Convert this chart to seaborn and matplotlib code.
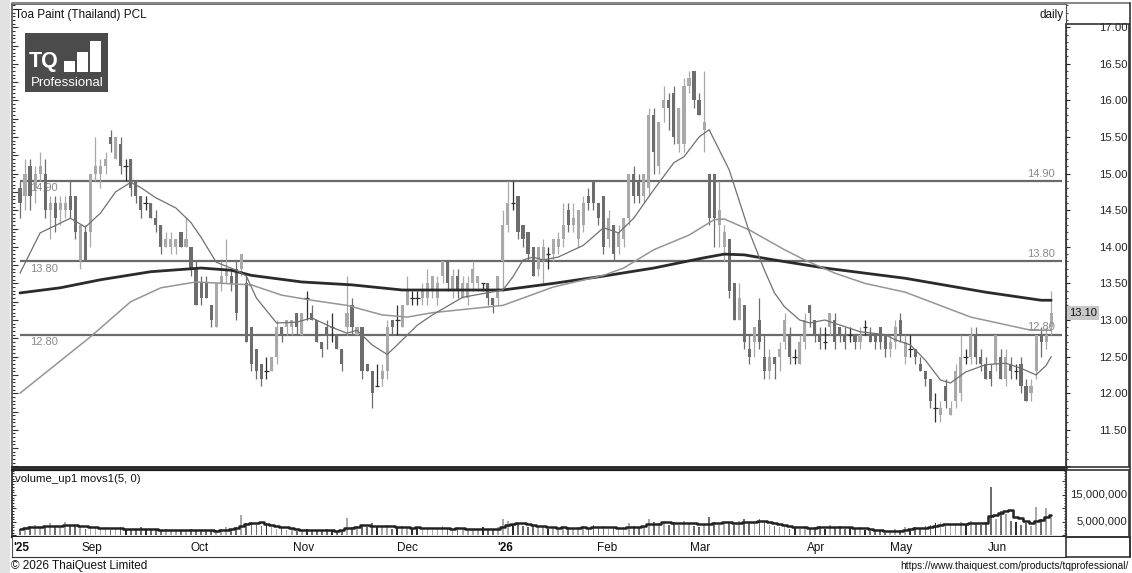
import matplotlib
matplotlib.use("Agg")
import matplotlib.pyplot as plt
import numpy as np
import pandas as pd
import seaborn as sns
from matplotlib.patches import Rectangle
from matplotlib.ticker import MultipleLocator, FuncFormatter
from matplotlib.transforms import blended_transform_factory

# ---- data (daily OHLC, Aug 2025 - Jun 2026) ----
opens = [14.8, 14.7, 15.1, 14.8, 15.0, 15.0, 14.5, 14.6, 14.5, 14.5,
         14.7, 14.7, 13.8, 14.2, 14.2, 15.0, 15.0, 15.1, 15.5, 15.2,
         15.4, 15.1, 15.2, 14.9, 14.7, 14.6, 14.6, 14.4, 14.3, 14.0,
         14.0, 14.0, 14.2, 14.0, 14.0, 13.7, 13.5, 13.5, 13.2, 12.9,
         13.5, 13.6, 13.6, 13.7, 13.7, 13.5, 12.9, 12.6, 12.4, 12.3,
         12.3, 12.5, 12.9, 12.9, 12.9, 13.1, 12.8, 13.3, 13.1, 13.0,
         12.7, 12.9, 12.9, 12.8, 12.6, 12.9, 13.2, 12.8, 12.9, 12.4,
         12.3, 12.1, 12.2, 12.3, 13.0, 13.0, 12.9, 13.2, 13.3, 13.3,
         13.3, 13.3, 13.4, 13.3, 13.6, 13.8, 13.4, 13.6, 13.3, 13.3,
         13.5, 13.5, 13.5, 13.5, 13.3, 13.3, 13.8, 14.3, 14.6, 14.7,
         14.3, 14.2, 14.0, 13.7, 13.8, 13.9, 13.9, 14.0, 14.1, 14.5,
         14.3, 14.1, 14.3, 14.7, 14.9, 14.6, 14.7, 14.1, 14.3, 14.0,
         14.1, 14.4, 15.0, 14.9, 14.7, 14.8, 15.8, 15.1, 15.9, 16.0,
         16.1, 15.4, 15.4, 16.2, 16.4, 16.0, 15.6, 15.0, 15.0, 14.3,
         14.0, 14.1, 13.5, 13.0, 13.2, 12.6, 12.7, 13.0, 12.5, 12.3,
         12.5, 12.5, 12.7, 12.8, 12.5, 12.4, 12.7, 13.2, 13.0, 12.8,
         12.7, 12.9, 13.0, 12.9, 12.8, 12.8, 12.8, 12.7, 12.9, 12.8,
         12.8, 12.9, 12.8, 12.6, 12.7, 13.0, 12.5, 12.6, 12.6, 12.4,
         12.3, 12.2, 11.8, 11.7, 12.1, 11.7, 11.9, 12.0, 12.5, 12.5,
         12.8, 12.5, 12.4, 12.3, 12.4, 12.5, 12.2, 12.4, 12.3, 12.4,
         12.1, 12.0, 12.3, 12.8, 12.7, 12.9]
highs = [14.9, 15.2, 15.2, 15.1, 15.3, 15.2, 14.7, 14.7, 14.7, 14.7,
         14.9, 14.7, 14.3, 14.3, 15.0, 15.5, 15.2, 15.3, 15.6, 15.5,
         15.5, 15.2, 15.2, 14.9, 14.7, 14.7, 14.6, 14.5, 14.3, 14.2,
         14.2, 14.1, 14.2, 14.4, 14.0, 13.8, 13.6, 13.6, 13.2, 13.5,
         13.8, 14.1, 13.7, 13.8, 13.9, 13.6, 12.9, 12.6, 12.4, 12.5,
         12.5, 13.0, 12.9, 13.0, 13.0, 13.1, 13.1, 13.4, 13.2, 13.0,
         12.7, 13.0, 13.1, 12.8, 12.6, 13.6, 13.3, 12.9, 12.9, 12.4,
         12.3, 12.4, 12.4, 13.0, 13.0, 13.2, 13.2, 13.6, 13.4, 13.4,
         13.5, 13.7, 13.6, 13.6, 13.8, 13.8, 13.7, 13.7, 13.6, 13.6,
         13.8, 13.6, 13.5, 13.5, 13.3, 13.6, 14.5, 14.9, 14.9, 14.7,
         14.3, 14.2, 14.0, 14.0, 14.1, 14.0, 14.1, 14.2, 14.6, 14.6,
         14.6, 14.5, 14.7, 14.8, 14.9, 14.6, 14.7, 14.5, 14.3, 14.3,
         14.4, 15.0, 15.1, 15.0, 15.0, 15.9, 15.9, 15.7, 16.2, 16.1,
         16.2, 15.9, 16.3, 16.4, 16.4, 16.1, 16.4, 15.0, 15.0, 14.9,
         14.3, 14.1, 13.5, 13.5, 13.2, 12.8, 12.9, 13.3, 12.8, 12.6,
         12.5, 12.7, 13.1, 12.9, 12.6, 12.8, 13.1, 13.2, 13.0, 12.9,
         12.9, 13.1, 13.1, 12.9, 12.9, 12.9, 12.8, 12.9, 13.0, 12.9,
         12.8, 12.9, 12.8, 12.8, 13.0, 13.1, 12.8, 12.8, 12.6, 12.5,
         12.3, 12.2, 12.0, 11.9, 12.2, 11.9, 12.4, 12.8, 12.6, 12.9,
         12.9, 12.6, 12.5, 12.4, 12.8, 12.6, 12.6, 12.5, 12.4, 12.5,
         12.2, 12.2, 12.8, 12.9, 12.9, 13.4]
lows = [14.4, 14.5, 14.5, 14.6, 14.9, 14.4, 14.1, 14.2, 14.3, 14.4,
        14.4, 14.1, 13.7, 13.8, 14.0, 14.9, 14.8, 15.0, 15.3, 15.2,
        15.0, 14.9, 14.7, 14.6, 14.4, 14.5, 14.4, 14.2, 13.9, 14.0,
        13.9, 13.9, 14.0, 14.0, 13.6, 13.2, 13.2, 13.3, 12.9, 12.9,
        13.4, 13.5, 13.4, 13.0, 13.6, 12.7, 12.3, 12.2, 12.1, 12.2,
        12.3, 12.4, 12.7, 12.8, 12.8, 12.8, 12.8, 13.0, 13.0, 12.7,
        12.5, 12.6, 12.7, 12.6, 12.3, 12.8, 12.8, 12.8, 12.2, 12.3,
        11.8, 12.1, 12.1, 12.2, 12.8, 12.8, 12.9, 13.2, 13.2, 13.2,
        13.2, 13.2, 13.3, 13.2, 13.5, 13.4, 13.3, 13.3, 13.3, 13.2,
        13.4, 13.4, 13.4, 13.2, 13.1, 13.2, 13.4, 14.2, 14.5, 14.1,
        14.0, 13.8, 13.6, 13.6, 13.5, 13.7, 13.8, 13.9, 14.0, 14.2,
        14.2, 14.0, 14.2, 14.5, 14.5, 14.3, 13.9, 14.0, 13.8, 13.9,
        14.0, 14.3, 14.6, 14.6, 14.6, 14.7, 15.0, 15.0, 15.7, 15.6,
        15.4, 15.3, 15.3, 16.1, 15.9, 15.8, 15.3, 14.3, 14.0, 14.0,
        13.8, 13.3, 13.0, 13.0, 12.6, 12.4, 12.5, 12.6, 12.2, 12.2,
        12.2, 12.3, 12.6, 12.4, 12.4, 12.4, 12.6, 12.9, 12.7, 12.6,
        12.6, 12.8, 12.6, 12.7, 12.6, 12.7, 12.6, 12.6, 12.8, 12.7,
        12.6, 12.6, 12.5, 12.5, 12.6, 12.7, 12.4, 12.5, 12.4, 12.3,
        12.1, 11.8, 11.6, 11.6, 11.8, 11.7, 11.8, 11.9, 12.4, 12.4,
        12.4, 12.3, 12.2, 12.1, 12.3, 12.2, 12.1, 12.2, 12.2, 12.0,
        11.9, 11.9, 12.2, 12.5, 12.6, 12.8]
closes = [14.6, 15.0, 14.7, 15.0, 15.1, 14.5, 14.6, 14.4, 14.6, 14.6,
          14.5, 14.2, 14.3, 13.8, 15.0, 15.1, 15.1, 15.2, 15.4, 15.5,
          15.1, 15.1, 14.8, 14.7, 14.5, 14.6, 14.4, 14.3, 14.0, 14.1,
          14.1, 14.1, 14.0, 14.1, 13.7, 13.2, 13.3, 13.3, 13.0, 13.5,
          13.6, 13.7, 13.5, 13.1, 13.9, 12.7, 12.4, 12.3, 12.2, 12.3,
          12.5, 12.9, 12.8, 13.0, 13.0, 12.9, 13.1, 13.3, 13.0, 12.7,
          12.6, 12.8, 12.9, 12.6, 12.4, 13.1, 12.9, 12.9, 12.3, 12.3,
          12.0, 12.1, 12.3, 12.9, 12.9, 13.0, 13.2, 13.4, 13.3, 13.3,
          13.4, 13.5, 13.6, 13.5, 13.8, 13.5, 13.6, 13.4, 13.5, 13.5,
          13.7, 13.6, 13.5, 13.3, 13.2, 13.6, 14.3, 14.6, 14.6, 14.2,
          14.1, 13.9, 13.6, 14.0, 14.0, 13.9, 14.1, 14.1, 14.3, 14.3,
          14.4, 14.5, 14.6, 14.6, 14.6, 14.4, 14.0, 14.4, 13.9, 14.2,
          14.4, 15.0, 14.7, 14.7, 15.0, 15.8, 15.3, 15.7, 16.0, 15.9,
          15.5, 15.9, 16.2, 16.3, 16.0, 15.8, 15.7, 14.4, 14.4, 14.5,
          14.2, 13.4, 13.0, 13.3, 12.7, 12.5, 12.9, 12.7, 12.3, 12.5,
          12.4, 12.6, 13.0, 12.5, 12.5, 12.7, 13.0, 13.1, 12.8, 12.7,
          12.7, 13.1, 12.7, 12.8, 12.7, 12.8, 12.7, 12.8, 12.9, 12.7,
          12.7, 12.7, 12.6, 12.7, 12.9, 12.8, 12.7, 12.6, 12.5, 12.3,
          12.2, 11.9, 11.8, 11.8, 11.9, 11.8, 12.3, 12.5, 12.5, 12.8,
          12.5, 12.4, 12.2, 12.2, 12.8, 12.2, 12.5, 12.3, 12.3, 12.1,
          11.9, 12.1, 12.8, 12.7, 12.8, 13.1]
# volume in millions of shares
volume_m = [2.5, 3.0, 3.5, 4.0, 3.5, 3.0, 4.5, 3.5, 3.0, 5.0,
            3.5, 4.0, 3.0, 2.5, 3.5, 3.0, 2.5, 3.0, 2.0, 2.5,
            3.0, 2.0, 2.5, 2.0, 3.0, 2.0, 2.5, 2.0, 1.5, 2.5,
            2.0, 2.0, 1.5, 2.0, 2.5, 1.5, 2.0, 2.0, 1.5, 2.0,
            2.5, 3.0, 2.5, 3.0, 7.5, 4.5, 5.0, 4.0, 3.5, 4.5,
            3.0, 2.5, 3.0, 2.0, 2.5, 1.5, 2.0, 2.5, 2.0, 1.5,
            2.0, 2.5, 1.5, 1.5, 2.0, 6.5, 3.0, 3.5, 4.0, 3.0,
            4.5, 3.5, 3.0, 4.0, 2.5, 3.0, 3.5, 3.0, 2.5, 3.0,
            2.5, 3.0, 2.0, 2.5, 3.5, 2.5, 2.0, 3.0, 2.5, 2.0,
            2.5, 2.0, 3.0, 2.5, 2.0, 3.0, 6.0, 5.5, 4.0, 4.5,
            3.5, 3.0, 4.0, 3.0, 3.5, 2.5, 3.0, 2.5, 3.5, 3.0,
            2.5, 3.0, 3.5, 2.5, 4.0, 3.0, 3.5, 2.5, 3.0, 2.5,
            3.0, 4.5, 3.5, 3.0, 3.5, 6.0, 5.0, 4.5, 5.5, 4.0,
            5.0, 4.0, 5.5, 4.5, 3.5, 3.0, 4.0, 7.0, 5.0, 4.0,
            4.5, 5.0, 4.0, 5.5, 6.0, 5.0, 4.5, 6.0, 5.5, 4.0,
            3.5, 3.0, 4.0, 2.5, 3.0, 2.5, 3.5, 2.5, 3.0, 3.5,
            2.5, 4.0, 3.0, 3.5, 2.5, 3.0, 2.5, 3.0, 2.0, 1.5,
            1.5, 2.0, 1.0, 1.5, 2.5, 2.0, 3.0, 2.5, 3.0, 2.5,
            3.5, 4.0, 4.5, 5.0, 3.5, 4.0, 4.5, 5.0, 4.0, 5.5,
            4.5, 4.0, 5.0, 18.0, 6.0, 9.0, 8.0, 5.5, 5.0, 4.0,
            4.5, 3.5, 10.5, 6.0, 10.0, 7.5]

# moving averages as drawn on the reference (bar index, price)
fast_idx = [0, 4, 10, 13, 16, 19, 22, 24, 27, 31, 34, 36, 39, 43, 45, 47, 51, 55,
            58, 62, 65, 67, 70, 73, 75, 79, 82, 88, 92, 96, 98, 100, 102, 104, 107,
            112, 116, 119, 122, 126, 130, 132, 135, 137, 141, 145, 148, 150, 152,
            155, 157, 160, 167, 172, 174, 177, 180, 183, 185, 188, 192, 196, 199,
            202, 204, 205]
fast_val = [13.64, 14.19, 14.39, 14.27, 14.46, 14.75, 14.88, 14.81, 14.67, 14.53,
            14.33, 14.13, 13.79, 13.68, 13.60, 13.30, 12.96, 12.97, 13.03, 12.90,
            12.82, 12.86, 12.66, 12.53, 12.66, 12.93, 13.07, 13.31, 13.36, 13.41,
            13.59, 13.82, 13.86, 13.82, 13.86, 14.02, 14.26, 14.19, 14.39, 14.78,
            15.15, 15.23, 15.50, 15.60, 15.05, 14.20, 13.68, 13.37, 13.18, 13.00,
            12.96, 13.00, 12.84, 12.80, 12.73, 12.66, 12.45, 12.18, 12.14, 12.29,
            12.39, 12.41, 12.34, 12.25, 12.38, 12.50]
mid_idx = [0, 14, 22, 28, 35, 46, 52, 58, 65, 72, 77, 82, 96, 106, 116, 120, 126,
           133, 138, 140, 145, 152, 156, 162, 168, 176, 189, 201, 205]
mid_val = [12.00, 12.77, 13.25, 13.44, 13.52, 13.48, 13.34, 13.27, 13.20, 13.07,
           13.04, 13.10, 13.20, 13.45, 13.61, 13.71, 13.96, 14.16, 14.37, 14.38,
           14.23, 13.96, 13.82, 13.64, 13.50, 13.38, 13.04, 12.86, 12.86]
slow_idx = [0, 8, 16, 26, 36, 42, 46, 56, 66, 76, 86, 96, 106, 116, 126, 136, 140,
            144, 150, 160, 176, 192, 203, 205]
slow_val = [13.37, 13.44, 13.55, 13.66, 13.71, 13.68, 13.61, 13.52, 13.48, 13.41,
            13.41, 13.41, 13.50, 13.60, 13.71, 13.85, 13.90, 13.89, 13.82, 13.71,
            13.57, 13.38, 13.27, 13.27]

level_prices = [14.90, 13.80, 12.80]
last_price = 13.10
vol_ticks = [5, 15]  # millions
month_labels = ["'25", "Sep", "Oct", "Nov", "Dec", "'26", "Feb", "Mar", "Apr", "May", "Jun"]
month_pos = [-1.4, 12.3, 33.8, 54.3, 75.0, 94.8, 114.7, 133.2, 156.5, 173.0, 192.4]

W, H = 1132, 573


def box(x0, y0, x1, y1):
    '''pixel box -> figure fraction rect'''
    return [x0 / W, 1 - y1 / H, (x1 - x0) / W, (y1 - y0) / H]


sns.set_style("white")
plt.rcParams['font.family'] = ['Liberation Sans', 'DejaVu Sans']

fig = plt.figure(figsize=(W / 100, H / 100), dpi=100)
fig.patch.set_facecolor('white')

# light strip on the far left
fig.patches.append(Rectangle((0, 0), 10 / W, 1, transform=fig.transFigure,
                             facecolor='#e2e2e2', edgecolor='none', zorder=0))

ax = fig.add_axes(box(12, 4, 1066, 467))
axv = fig.add_axes(box(12, 470, 1066, 537), sharex=ax)
axd = fig.add_axes(box(12, 537, 1066, 557), sharex=ax)

df = pd.DataFrame({'o': opens, 'h': highs, 'l': lows, 'c': closes, 'v': volume_m})
df['i'] = np.arange(len(df))
up_c, dn_c, dj_c = '#a9a9a9', '#6d6d6d', '#2e2e2e'
colors = np.where(df.c > df.o, up_c, np.where(df.c < df.o, dn_c, dj_c))

# candles
ax.vlines(df.i, df.l, df.h, colors=colors, lw=0.9, zorder=3)
body = (df.c - df.o).abs()
ax.bar(df.i, body.where(body > 0, 0), bottom=df[['o', 'c']].min(axis=1),
       width=0.62, color=colors, zorder=4, linewidth=0)
doji = df[body == 0]
ax.hlines(doji.c, doji.i - 0.45, doji.i + 0.45, colors=dj_c, lw=0.9, zorder=4)

# moving averages
sns.lineplot(x=slow_idx, y=slow_val, ax=ax, color='#2b2b2b', lw=2.0, zorder=5)
sns.lineplot(x=mid_idx, y=mid_val, ax=ax, color='#959595', lw=1.1, zorder=5)
sns.lineplot(x=fast_idx, y=fast_val, ax=ax, color='#707070', lw=0.9, zorder=5)

# horizontal levels
for lv in level_prices:
    ax.hlines(lv, 0, 207.2, colors='#6a6a6a', lw=1.6, zorder=2)
    ax.text(2.0, lv - 0.03, f"{lv:.2f}", color='#8a8a8a', fontsize=8, va='top', ha='left', zorder=6)
    ax.text(205.8, lv + 0.03, f"{lv:.2f}", color='#8a8a8a', fontsize=8, va='bottom', ha='right', zorder=6)

ax.set_xlim(-1.59, 207.95)
ax.set_ylim(10.992, 17.317)
ax.yaxis.set_major_locator(MultipleLocator(0.25))
ax.yaxis.set_minor_locator(MultipleLocator(0.05))
ax.tick_params(axis='y', which='both', direction='in', left=True, right=False,
               labelleft=False, color='#333333', width=0.8)
ax.tick_params(axis='y', which='major', length=4)
ax.tick_params(axis='y', which='minor', length=2)
ax.tick_params(axis='x', bottom=False, labelbottom=False)
for s in ['left', 'top']:
    ax.spines[s].set_color('#555555')
    ax.spines[s].set_linewidth(1.2)
ax.spines['bottom'].set_color('#222222')
ax.spines['bottom'].set_linewidth(2.0)
ax.spines['right'].set_linestyle(':')
ax.spines['right'].set_color('#444444')
ax.set_xlabel('')
ax.set_ylabel('')

# right price scale
sec = ax.secondary_yaxis('right')
sec.yaxis.set_major_locator(MultipleLocator(0.5))
sec.yaxis.set_minor_locator(MultipleLocator(0.1))
sec.yaxis.set_major_formatter(FuncFormatter(lambda v, p: f"{v:.2f}" if 11.4 < v < 17.1 else ""))
sec.tick_params(which='major', length=3, pad=21, labelsize=8.2, colors='#222222')
sec.tick_params(which='minor', length=1.5)
sec.spines['right'].set_linestyle(':')
sec.spines['right'].set_color('#444444')

ax.text(1069 / W, 1 - 313 / H, f"{last_price:.2f}", transform=fig.transFigure, fontsize=8,
        va='center', ha='left', color='#111111',
        bbox=dict(boxstyle='square,pad=0.15', fc='#c8c8c8', ec='none'))

# volume panel
axv.bar(df.i, df.v, width=0.35, color=colors, linewidth=0, zorder=3)
vol_ma = df.v.rolling(5, min_periods=1).mean()
sns.lineplot(x=df.i, y=vol_ma, ax=axv, color='#222222', lw=1.8, drawstyle='steps-mid', zorder=4)
axv.set_ylim(-0.56, 24.26)
axv.yaxis.set_major_locator(MultipleLocator(5))
axv.yaxis.set_minor_locator(MultipleLocator(1))
axv.tick_params(axis='y', which='both', direction='in', left=True, right=True,
                labelleft=False, labelright=False, color='#333333', width=0.8)
axv.tick_params(axis='y', which='major', length=3)
axv.tick_params(axis='y', which='minor', length=1.5)
axv.tick_params(axis='x', bottom=False, labelbottom=False)
for s in ['left', 'top', 'bottom']:
    axv.spines[s].set_color('#222222')
    axv.spines[s].set_linewidth(1.6)
axv.spines['left'].set_linewidth(1.2)
axv.spines['right'].set_linestyle(':')
axv.spines['right'].set_color('#444444')
axv.set_xlabel('')
axv.set_ylabel('')
vtr = blended_transform_factory(axv.transAxes, axv.transData)
for vt in vol_ticks:
    axv.text((1127 - 12) / 1054, vt, f"{int(vt * 1e6):,}", transform=vtr, fontsize=8.2,
             va='center', ha='right', color='#222222', clip_on=False)
axv.text(0.003, 0.94, "volume_up1 movs1(5, 0)", transform=axv.transAxes, fontsize=8.2,
         va='top', ha='left', color='#111111')

# date row
axd.set_ylim(0, 1)
axd.set_yticks([])
axd.tick_params(axis='x', bottom=False, labelbottom=False)
for s in ['top', 'right']:
    axd.spines[s].set_visible(False)
axd.spines['left'].set_color('#555555')
axd.spines['bottom'].set_color('#333333')
for lab, pos in zip(month_labels, month_pos):
    axd.text(pos, 0.45, lab, fontsize=8.5, va='center', ha='left', color='#111111',
             fontweight='bold' if lab.startswith("'") else 'normal')

# right-hand boxes
for x0, y0, x1, y1 in [(1066, 24, 1129, 467), (1066, 470, 1129, 537), (1066, 537, 1130, 557)]:
    fig.patches.append(Rectangle((x0 / W, 1 - y1 / H), (x1 - x0) / W, (y1 - y0) / H,
                                 transform=fig.transFigure, fill=False,
                                 edgecolor='#333333', lw=1.2, zorder=1))
fig.add_artist(plt.Line2D([12 / W, 1130 / W], [1 - 3 / H, 1 - 3 / H], transform=fig.transFigure,
                          color='#888888', lw=1.5))
fig.add_artist(plt.Line2D([1130 / W, 1130 / W], [1 - 557 / H, 1 - 3 / H], transform=fig.transFigure,
                          color='#333333', lw=1.2))

# header / footer texts
fig.text(15 / W, 1 - 15 / H, "Toa Paint (Thailand) PCL", fontsize=8.5, va='center', ha='left', color='#111111')
fig.text(1064 / W, 1 - 15 / H, "daily", fontsize=8.5, va='center', ha='right', color='#111111')
fig.text(11 / W, 1 - 566 / H, "\u00a9 2026 ThaiQuest Limited", fontsize=8.5, va='center', ha='left', color='#111111')
fig.text(1129 / W, 1 - 566 / H, "https://www.thaiquest.com/products/tqprofessional/", fontsize=7.3,
         va='center', ha='right', color='#111111')

# logo
fig.patches.append(Rectangle((25 / W, 1 - 92 / H), 83 / W, 59 / H, transform=fig.transFigure,
                             facecolor='#4b4b4b', edgecolor='none', zorder=2))
fig.text(29 / W, 1 - 62 / H, "TQ", fontsize=15.5, fontweight='bold', color='white', va='center', ha='left')
for bx, by0, bh in [(64, 72, 11), (77, 72, 20), (90, 72, 31)]:
    fig.patches.append(Rectangle((bx / W, 1 - by0 / H), 11 / W, bh / H, transform=fig.transFigure,
                                 facecolor='white', edgecolor='none', zorder=3))
fig.text(67 / W, 1 - 83 / H, "Professional", fontsize=9.5, color='white', va='center', ha='center')

fig.savefig("out.png", dpi=100, facecolor='white')
